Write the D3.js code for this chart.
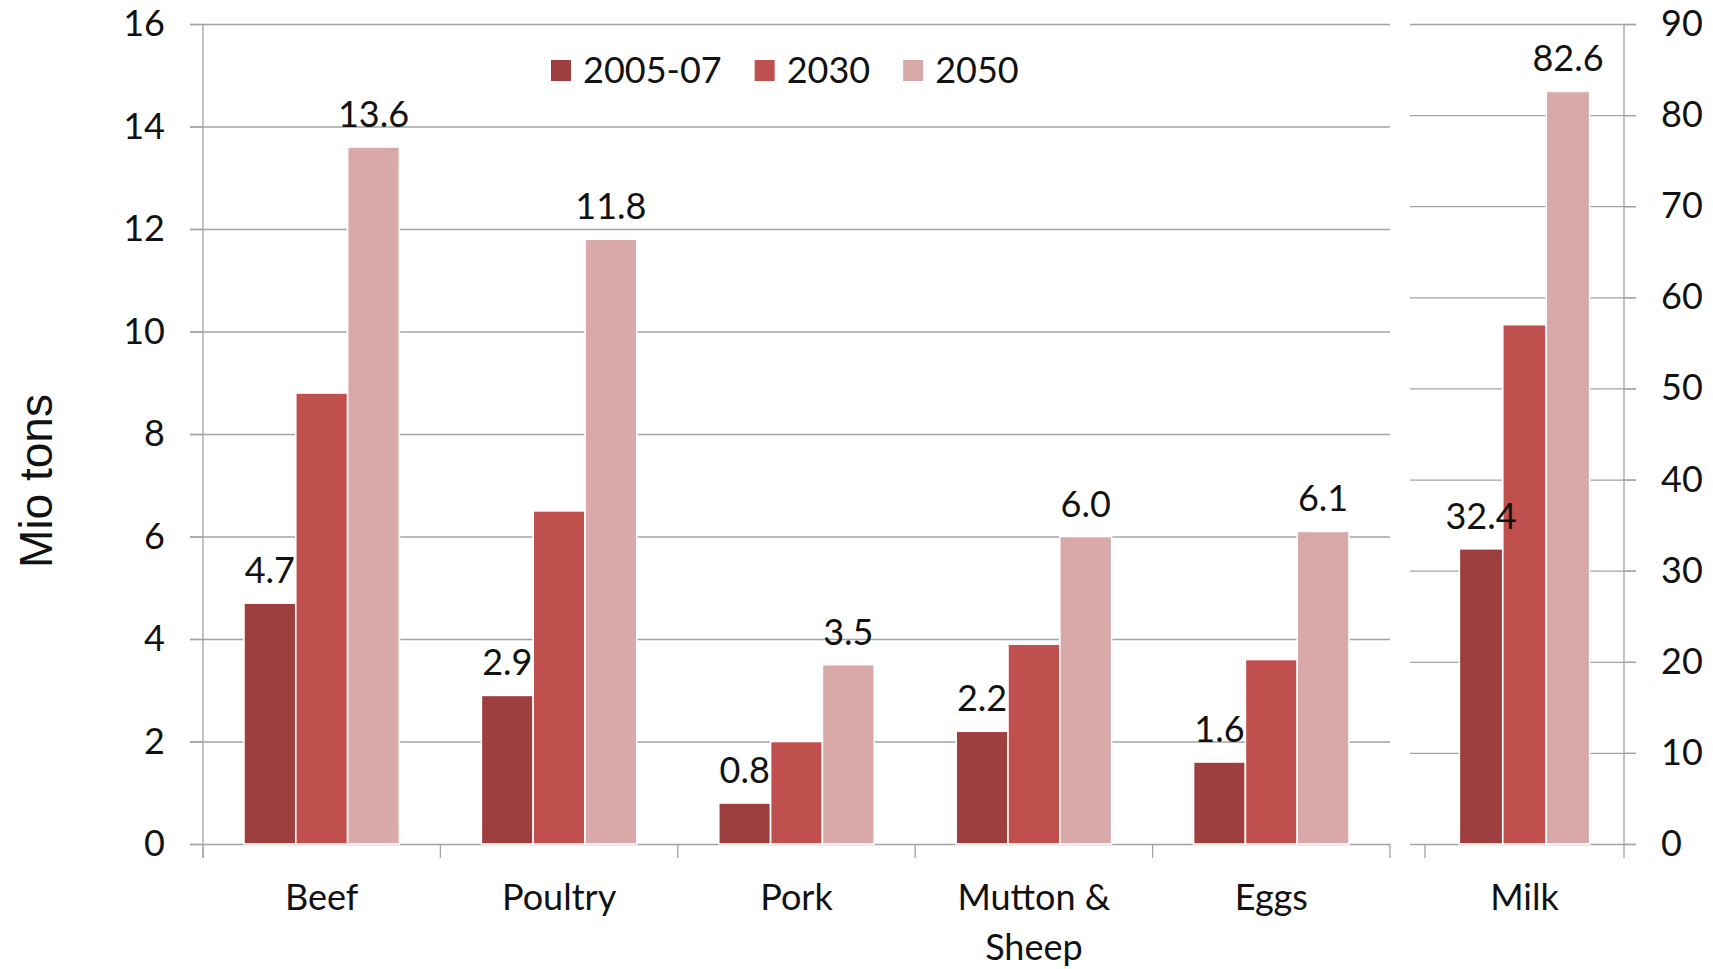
<!DOCTYPE html>
<html>
<head>
<meta charset="utf-8">
<script src="https://cdn.jsdelivr.net/npm/d3@7"></script>
<style>
  body { margin: 0; background: #fff; }
  text { font-family: Lato, "Open Sans", sans-serif; fill: #111; }
</style>
</head>
<body>
<div id="chart"></div>
<script>
// data
const categories = ['Beef', 'Poultry', 'Pork', 'Mutton & Sheep', 'Eggs'];
const milkCategory = ['Milk'];
const series = ['2005-07', '2030', '2050'];
const v2005 = [4.7, 2.9, 0.8, 2.2, 1.6];
const v2030 = [8.8, 6.5, 2.0, 3.9, 3.6];
const v2050 = [13.6, 11.8, 3.5, 6.0, 6.1];
const milk = [32.4, 57.0, 82.6];
const leftTicks = [0, 2, 4, 6, 8, 10, 12, 14, 16];
const rightTicks = [0, 10, 20, 30, 40, 50, 60, 70, 80, 90];
const labelled = ['2005-07', '2050']; // only these series get value labels

const colors = ['#9e3f3f', '#c0504d', '#d9a9a9'];
const fontSize = 36;

const width = 1713, height = 969;
const svg = d3.select('#chart').append('svg')
  .attr('width', width).attr('height', height);

const yTop = 24, yBottom = 844;
const yL = d3.scaleLinear().domain([0, 16]).range([yBottom, yTop]);
const yR = d3.scaleLinear().domain([0, 90]).range([yBottom, yTop]);

const xL = d3.scaleBand().domain(categories).range([203, 1390]);
const xR = d3.scaleBand().domain(milkCategory).range([1425, 1624]);
const groupFrac = 0.655;

const color = d3.scaleOrdinal().domain(series).range(colors);

// gridlines
svg.append('g').selectAll('line').data(leftTicks).join('line')
  .attr('x1', 190).attr('x2', 1390)
  .attr('y1', d => yL(d) + 0.5).attr('y2', d => yL(d) + 0.5)
  .attr('stroke', '#a3a3a3').attr('stroke-width', 1.3);
svg.append('g').selectAll('line').data(rightTicks).join('line')
  .attr('x1', 1410).attr('x2', 1636)
  .attr('y1', d => yR(d) + 0.5).attr('y2', d => yR(d) + 0.5)
  .attr('stroke', '#a3a3a3').attr('stroke-width', 1.3);

// category ticks below the baseline
const catTicks = categories.map(c => xL(c)).concat([xL.range()[1]]);
svg.append('g').selectAll('line').data(catTicks).join('line')
  .attr('x1', d => d).attr('x2', d => d)
  .attr('y1', yBottom).attr('y2', yBottom + 14)
  .attr('stroke', '#a3a3a3').attr('stroke-width', 1.3);
svg.append('line')
  .attr('x1', xR.range()[0]).attr('x2', xR.range()[0])
  .attr('y1', yBottom).attr('y2', yBottom + 14)
  .attr('stroke', '#a3a3a3').attr('stroke-width', 1.3);

// axes
const axL = svg.append('g').attr('transform', 'translate(203,0)')
  .call(d3.axisLeft(yL).tickValues(leftTicks).tickSize(13).tickPadding(25));
const axR = svg.append('g').attr('transform', 'translate(1624,0)')
  .call(d3.axisRight(yR).tickValues(rightTicks).tickSize(12).tickPadding(25));
[axL, axR].forEach(ax => {
  ax.select('.domain').remove();
  ax.selectAll('.tick line').attr('stroke', '#a3a3a3').attr('stroke-width', 1.3);
  ax.selectAll('.tick text').attr('font-family', 'Lato, sans-serif')
    .attr('font-size', fontSize).attr('fill', '#111');
});
[203, 1624].forEach(x => {
  svg.append('line').attr('x1', x).attr('x2', x)
    .attr('y1', yTop).attr('y2', yBottom + 14)
    .attr('stroke', '#a3a3a3').attr('stroke-width', 1.3);
});

// bars
function drawGroups(xScale, cats, valuesBySeries, yScale) {
  const bw = xScale.bandwidth();
  const inner = d3.scaleBand().domain(series)
    .range([bw * (1 - groupFrac) / 2, bw * (1 + groupFrac) / 2]);
  const rows = [];
  cats.forEach((c, i) => {
    series.forEach((s, j) => {
      rows.push({ cat: c, s: s, v: valuesBySeries[j][i] });
    });
  });
  const g = svg.append('g');
  g.selectAll('rect').data(rows).join('rect')
    .attr('x', d => xScale(d.cat) + inner(d.s))
    .attr('y', d => yScale(d.v))
    .attr('width', inner.bandwidth())
    .attr('height', d => yScale(0) - yScale(d.v))
    .attr('fill', d => color(d.s))
    .attr('stroke', '#fff').attr('stroke-width', 1.6);
  g.selectAll('text').data(rows.filter(d => labelled.includes(d.s))).join('text')
    .attr('x', d => xScale(d.cat) + inner(d.s) + inner.bandwidth() / 2)
    .attr('y', d => yScale(d.v) - 20)
    .attr('text-anchor', 'middle')
    .attr('font-size', fontSize)
    .text(d => d.v.toFixed(1));
}
drawGroups(xL, categories, [v2005, v2030, v2050], yL);
drawGroups(xR, milkCategory, [[milk[0]], [milk[1]], [milk[2]]], yR);

// category labels
const allCats = categories.map(c => ({ c, x: xL(c) + xL.bandwidth() / 2 }))
  .concat(milkCategory.map(c => ({ c, x: xR(c) + xR.bandwidth() / 2 })));
allCats.forEach(d => {
  const lines = d.c === 'Mutton & Sheep' ? ['Mutton &', 'Sheep'] : [d.c];
  const t = svg.append('text').attr('text-anchor', 'middle').attr('font-size', fontSize);
  lines.forEach((l, i) => {
    t.append('tspan').attr('x', d.x).attr('y', 910 + i * 50).text(l);
  });
});

// legend
const legend = svg.append('g');
let lx = 551;
series.forEach(s => {
  legend.append('rect').attr('x', lx).attr('y', 60).attr('width', 20).attr('height', 21)
    .attr('fill', color(s));
  const t = legend.append('text').attr('x', lx + 32).attr('y', 83).attr('font-size', fontSize).text(s);
  lx += 32 + t.node().getComputedTextLength() + 33;
});

// y title
svg.append('text')
  .attr('transform', 'translate(52,481) rotate(-90)')
  .attr('text-anchor', 'middle')
  .style('font-family', '"Liberation Sans", Arial, sans-serif')
  .attr('font-size', 46)
  .text('Mio tons');
</script>
</body>
</html>
